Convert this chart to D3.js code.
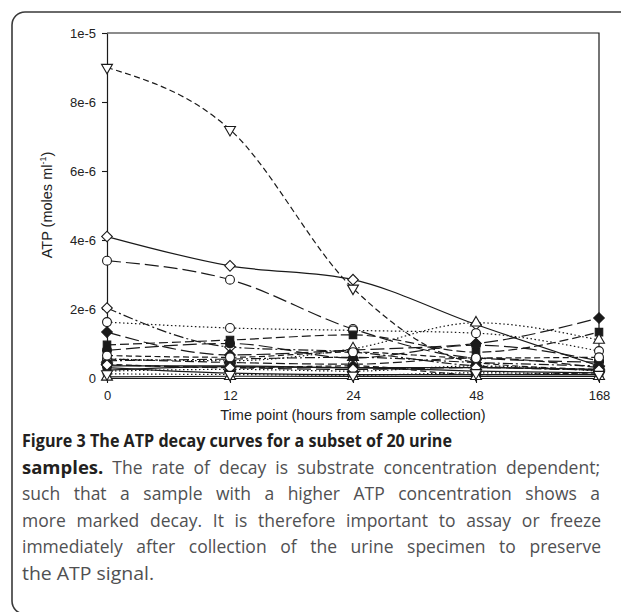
<!DOCTYPE html>
<html>
<head>
<meta charset="utf-8">
<script src="https://cdn.jsdelivr.net/npm/d3@7"></script>
<style>
  html, body { margin: 0; padding: 0; background: #fff; }
  svg { display: block; }
</style>
</head>
<body>
<svg id="fig" width="621" height="612"></svg>
<script>
/* ATP decay curves, 20 urine samples, 5 time points (values in moles/ml) */
var timeLabels = ["0", "12", "24", "48", "168"];
var yTickValues = [0, 2e-6, 4e-6, 6e-6, 8e-6, 1e-5];
var yTickLabels = ["0", "2e-6", "4e-6", "6e-6", "8e-6", "1e-5"];

var s01 = [9.0e-6, 7.2e-6, 2.6e-6, 0.45e-6, 0.25e-6];
var s02 = [4.1e-6, 3.25e-6, 2.85e-6, 1.55e-6, 0.35e-6];
var s03 = [3.4e-6, 2.85e-6, 1.42e-6, 0.58e-6, 0.46e-6];
var s04 = [2.03e-6, 0.9e-6, 0.75e-6, 0.35e-6, 0.23e-6];
var s05 = [1.62e-6, 1.45e-6, 1.38e-6, 1.3e-6, 0.78e-6];
var s06 = [1.33e-6, 0.67e-6, 0.81e-6, 1.0e-6, 1.74e-6];
var s07 = [0.96e-6, 1.1e-6, 1.25e-6, 0.75e-6, 1.33e-6];
var s08 = [0.55e-6, 0.5e-6, 0.85e-6, 1.6e-6, 1.1e-6];
var s09 = [0.8e-6, 1.0e-6, 0.58e-6, 0.95e-6, 0.5e-6];
var s10 = [0.23e-6, 0.33e-6, 0.3e-6, 0.2e-6, 0.15e-6];
var s11 = [0.3e-6, 0.14e-6, 0.1e-6, 0.1e-6, 0.1e-6];
var s12 = [0.55e-6, 0.45e-6, 0.4e-6, 0.58e-6, 0.3e-6];
var s13 = [0.35e-6, 0.35e-6, 0.3e-6, 0.3e-6, 0.25e-6];
var s14 = [0.4e-6, 0.3e-6, 0.35e-6, 0.1e-6, 0.15e-6];
var s15 = [0.03e-6, 0.05e-6, 0.05e-6, 0.05e-6, 0.05e-6];
var s16 = [0.2e-6, 0.25e-6, 0.2e-6, 0.35e-6, 0.2e-6];
var s17 = [0.5e-6, 0.55e-6, 0.6e-6, 0.45e-6, 0.35e-6];
var s18 = [0.38e-6, 0.3e-6, 0.25e-6, 0.3e-6, 0.23e-6];
var s19 = [0.65e-6, 0.6e-6, 0.75e-6, 0.58e-6, 0.6e-6];
var s20 = [0.12e-6, 0.1e-6, 0.08e-6, 0.15e-6, 0.1e-6];
var samples = [s01, s02, s03, s04, s05, s06, s07, s08, s09, s10,
               s11, s12, s13, s14, s15, s16, s17, s18, s19, s20];

// per-sample drawing style (marker shape, open/filled, line pattern)
var seriesMarker = ["triDown", "diamond", "circle", "diamond", "circle", "diamond", "square", "triUp", "circle", "square",
                    "triDown", "circle", "circle", "diamond", "triUp", "square", "triUp", "diamond", "circle", "triDown"];
var seriesFilled = [false, false, false, false, false, true, true, false, true, false,
                    true, false, true, true, false, true, true, false, false, false];
var seriesDash = ["short", "solid", "long", "dashdot", "dotted", "long", "medium", "dotted", "long", "solid",
                  "solid", "medium", "solid", "short", "solid", "dotted", "dashdot", "long", "short", "dotted"];

var captionLines = [
  [{ b: true, t: "Figure 3 The ATP decay curves for a subset of 20 urine" }],
  [{ b: true, t: "samples." }, { b: false, t: " The rate of decay is substrate concentration dependent;" }],
  [{ b: false, t: "such that a sample with a higher ATP concentration shows a" }],
  [{ b: false, t: "more marked decay. It is therefore important to assay or freeze" }],
  [{ b: false, t: "immediately after collection of the urine specimen to preserve" }],
  [{ b: false, t: "the ATP signal." }]
];
// right end of each caption line (first and last are not justified)
var captionEnds = [452, 600, 600, 601, 601, 154];

var DASH = { solid: null, long: "14,5", medium: "9,4", short: "6,3.5", dashdot: "10,3,2,3", dotted: "1.5,2.5" };
var INK = "#1a1a1a", AXIS_FONT = "'Liberation Sans', Arial, sans-serif";

var svg = d3.select("#fig");

// outer rounded frame (right and bottom run off the page)
svg.append("rect").attr("x", 12).attr("y", 12).attr("width", 700).attr("height", 602)
  .attr("rx", 13).attr("fill", "none").attr("stroke", "#3a3a3a").attr("stroke-width", 1.6);

var x = d3.scalePoint().domain(timeLabels).range([107, 599]);
var y = d3.scaleLinear().domain([0, 1e-5]).range([378, 33]);

// plot box top and right
svg.append("path").attr("d", "M" + x.range()[0] + "," + y(1e-5) + "H" + x.range()[1] + "V" + y(0))
  .attr("fill", "none").attr("stroke", INK).attr("stroke-width", 1.2);

var yAxis = svg.append("g").attr("transform", "translate(" + x.range()[0] + ",0)")
  .call(d3.axisLeft(y).tickValues(yTickValues).tickSize(5).tickSizeOuter(0)
    .tickFormat(function (d, i) { return yTickLabels[i]; }));
var xAxis = svg.append("g").attr("transform", "translate(0," + y(0) + ")")
  .call(d3.axisBottom(x).tickSize(5).tickSizeOuter(0));
[yAxis, xAxis].forEach(function (g) {
  g.select(".domain").attr("stroke", INK).attr("stroke-width", 1.2);
  g.selectAll(".tick line").attr("stroke", INK).attr("stroke-width", 1.1);
  g.selectAll(".tick text").attr("fill", "#222").attr("font-family", AXIS_FONT).attr("font-size", 13);
});
yAxis.selectAll(".tick text").attr("x", -11);
xAxis.selectAll(".tick text").attr("y", 13);

// axis titles
svg.append("text").attr("x", 353).attr("y", 420).attr("text-anchor", "middle")
  .attr("font-family", AXIS_FONT).attr("font-size", 14.5).attr("fill", "#222")
  .text("Time point (hours from sample collection)");
var yl = svg.append("text").attr("transform", "translate(52,205) rotate(-90)").attr("text-anchor", "middle")
  .attr("font-family", AXIS_FONT).attr("font-size", 14.5).attr("fill", "#222");
yl.append("tspan").text("ATP (moles ml");
yl.append("tspan").attr("font-size", 9).attr("dy", -6).text("-1");
yl.append("tspan").attr("dy", 6).text(")");

// curves
var line = d3.line().x(function (d, i) { return x(timeLabels[i]); }).y(function (d) { return y(d); })
  .curve(d3.curveMonotoneX);
var plot = svg.append("g");
samples.forEach(function (vals, k) {
  plot.append("path").attr("d", line(vals)).attr("fill", "none")
    .attr("stroke", INK).attr("stroke-width", 1.2)
    .attr("stroke-dasharray", DASH[seriesDash[k]]);
});

// markers
var SYM = {
  circle: { type: d3.symbolCircle, size: 62, rot: 0 },
  square: { type: d3.symbolSquare, size: 56, rot: 0 },
  diamond: { type: d3.symbolSquare, size: 56, rot: 45 },
  triUp: { type: d3.symbolTriangle, size: 52, rot: 0 },
  triDown: { type: d3.symbolTriangle, size: 52, rot: 180 }
};
samples.forEach(function (vals, k) {
  var s = SYM[seriesMarker[k]];
  var path = d3.symbol().type(s.type).size(s.size)();
  vals.forEach(function (v, i) {
    plot.append("path").attr("d", path)
      .attr("transform", "translate(" + x(timeLabels[i]) + "," + y(v) + ") rotate(" + s.rot + ")")
      .attr("fill", seriesFilled[k] ? INK : "#fff").attr("stroke", INK).attr("stroke-width", 1.1);
  });
});

// caption: bold title then justified body text, squeezed to the reference line ends
var CAP_FONT = "'Open Sans', 'Noto Sans', sans-serif", capLeft = 22;
var cap = svg.append("g").attr("font-family", CAP_FONT).attr("font-size", 17.5);
captionLines.forEach(function (parts, i) {
  var t = cap.append("text").attr("x", capLeft).attr("y", 447 + i * 26.5);
  parts.forEach(function (p) {
    t.append("tspan").attr("font-weight", p.b ? 700 : 400).attr("font-size", p.b ? 18.5 : null)
      .attr("fill", p.b ? "#231f20" : "#505052").text(p.t);
  });
  var target = captionEnds[i] - capLeft;
  var w = t.node().getComputedTextLength();
  var justify = i > 0 && i < captionLines.length - 1;
  if (w > target || !justify) {
    t.attr("textLength", target).attr("lengthAdjust", "spacingAndGlyphs");
  } else {
    var full = parts.map(function (p) { return p.t; }).join("");
    t.style("word-spacing", ((target - w) / (full.split(" ").length - 1)) + "px");
  }
});
</script>
</body>
</html>
